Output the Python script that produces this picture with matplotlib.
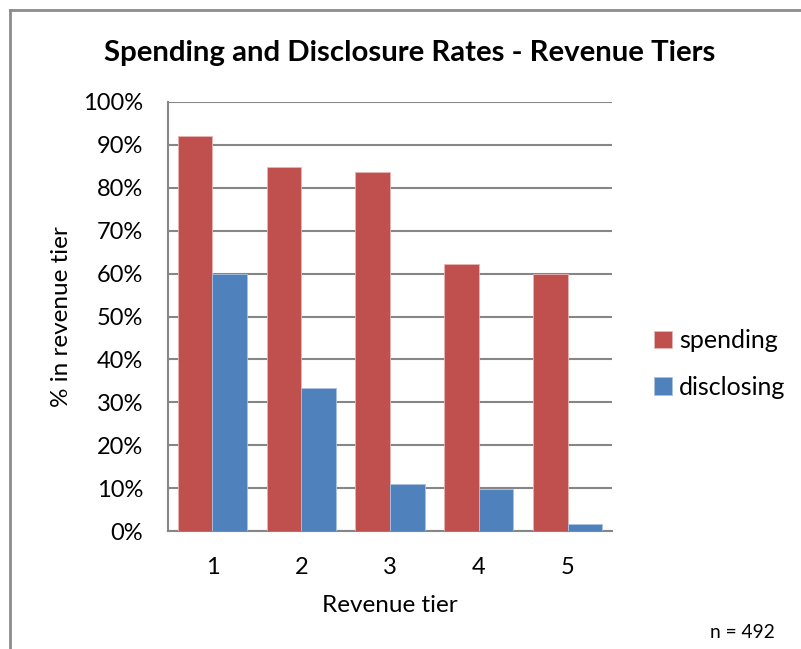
import matplotlib
matplotlib.use("Agg")
import matplotlib.pyplot as plt
import numpy as np
from matplotlib.lines import Line2D

plt.rcParams['font.family'] = ['Lato', 'DejaVu Sans']

tiers = ["1", "2", "3", "4", "5"]
spending = [92.1, 84.9, 83.7, 62.2, 59.8]
disclosing = [59.8, 33.3, 10.9, 9.7, 1.7]
yticks = [0, 10, 20, 30, 40, 50, 60, 70, 80, 90, 100]
ytick_labels = [f"{v}%" for v in yticks]

W, H = 801, 649
fig = plt.figure(figsize=(W / 100, H / 100), dpi=100)
fig.patch.set_facecolor('white')

# outer frame (top and left visible)
fig.add_artist(Line2D([9.5 / W, 1.0], [1 - 9.5 / H, 1 - 9.5 / H], color='#8c8c8c', lw=2, transform=fig.transFigure))
fig.add_artist(Line2D([9.5 / W, 9.5 / W], [0, 1 - 9.5 / H], color='#8c8c8c', lw=2, transform=fig.transFigure))

left, right, top, bottom = 168, 612, 102, 531
ax = fig.add_axes([left / W, 1 - bottom / H, (right - left) / W, (bottom - top) / H])

x = np.arange(len(tiers))
bw = 0.39
ax.bar(x - bw / 2, spending, bw, color='#C0504D', label='spending', zorder=3,
       edgecolor='#e8b5b4', linewidth=0.6)
ax.bar(x + bw / 2, disclosing, bw, color='#4F81BD', label='disclosing', zorder=3,
       edgecolor='#a9c2e0', linewidth=0.6)

ax.set_xlim(-0.5, len(tiers) - 0.5)
ax.set_ylim(0, 100)
ax.set_yticks(yticks)
ax.set_yticklabels(ytick_labels)
ax.set_xticks(x)
ax.set_xticklabels(tiers)
ax.tick_params(axis='y', length=0, pad=18, labelsize=17, colors='black')
ax.tick_params(axis='x', length=0, pad=19, labelsize=17, colors='black')
ax.yaxis.grid(True, color='#868686', lw=1.5, zorder=0)
ax.set_axisbelow(True)
for s in ['top', 'right']:
    ax.spines[s].set_visible(False)
for s in ['left', 'bottom']:
    ax.spines[s].set_color('#868686')
    ax.spines[s].set_linewidth(1.5)

fig.text(409.5 / W, 1 - 53 / H, 'Spending and Disclosure Rates - Revenue Tiers',
         ha='center', va='center', fontsize=21.2, fontweight='bold')
fig.text(62 / W, 1 - 317 / H, '% in revenue tier', rotation=90,
         ha='center', va='center', fontsize=17.5)
fig.text(390 / W, 1 - 606 / H, 'Revenue tier', ha='center', va='center', fontsize=17.5)
fig.text(742.5 / W, 1 - 633 / H, 'n = 492', ha='center', va='center', fontsize=13.8)

ax.legend(loc='center left', bbox_to_anchor=(654 / W, 1 - 364 / H),
          bbox_transform=fig.transFigure, frameon=False, fontsize=18,
          handlelength=0.7, handleheight=0.7, handletextpad=0.3, labelspacing=0.95,
          borderaxespad=0, borderpad=0)

fig.savefig('out.png', dpi=100)
